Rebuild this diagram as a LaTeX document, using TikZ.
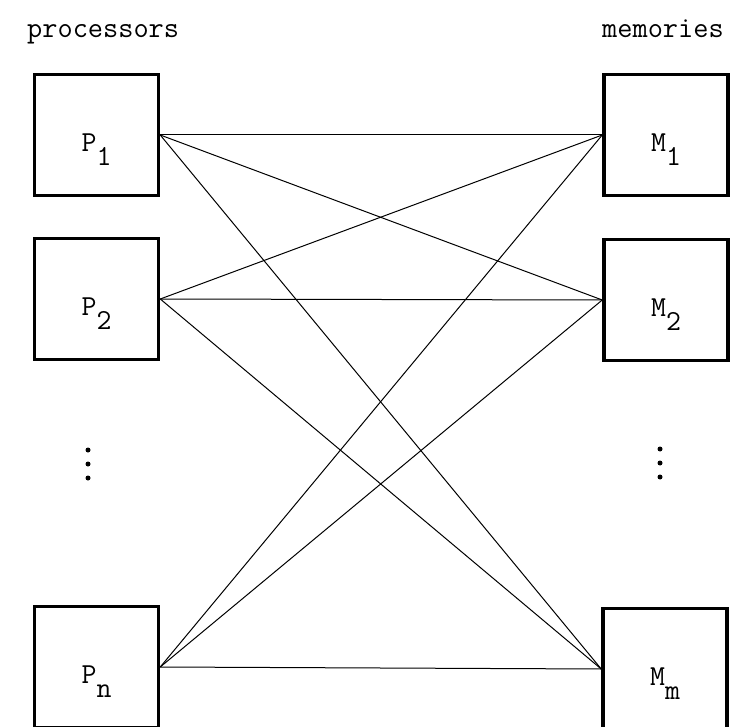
\documentclass[tikz,border=0pt]{standalone}
\usepackage{tikz}
\usetikzlibrary{positioning}

\newcommand{\lowsub}[1]{\raisebox{-14pt}{#1}}

\begin{document}
\begin{tikzpicture}[
  x=1pt, y=-1pt,
  unitBox/.style={draw, line width=3.5pt, minimum width=124pt, minimum height=121pt, inner sep=0pt, text height=33pt, text depth=0pt, font=\fontsize{29}{33}\selectfont\ttfamily},
  headLabel/.style={anchor=base west, inner sep=0pt, font=\fontsize{29.5}{33}\selectfont\ttfamily},
  vdot/.style={circle, fill, inner sep=0pt, minimum size=5pt},
  link/.style={line width=1pt}
]
\useasboundingbox (0,0) rectangle (742,727);

% Headings
\node[headLabel] (proclabel) at (27,38) {processors};
\node[headLabel] (memlabel) at (602,38) {memories};

% Processors
\node[unitBox] (p1) at (96.5,135) {P\lowsub{1}};
\node[unitBox] (p2) at (96.5,299) {P\lowsub{2}};
\node[unitBox] (pn) at (96.5,667) {P\lowsub{n}};

% Memories
\node[unitBox] (m1) at (666,135) {M\lowsub{1}};
\node[unitBox] (m2) at (666,300) {M\lowsub{2}};
\node[unitBox] (mm) at (665,669) {M\lowsub{m}};

% Ellipses
\foreach \k in {0,1,2} {
  \node[vdot] (pdot\k) at (88,450+14*\k) {};
  \node[vdot] (mdot\k) at (660,449+14*\k) {};
}

% Full crossbar
\foreach \p in {p1,p2,pn}
  \foreach \m in {m1,m2,mm}
    \draw[link] (\p.east) -- (\m.west);

\end{tikzpicture}
\end{document}
